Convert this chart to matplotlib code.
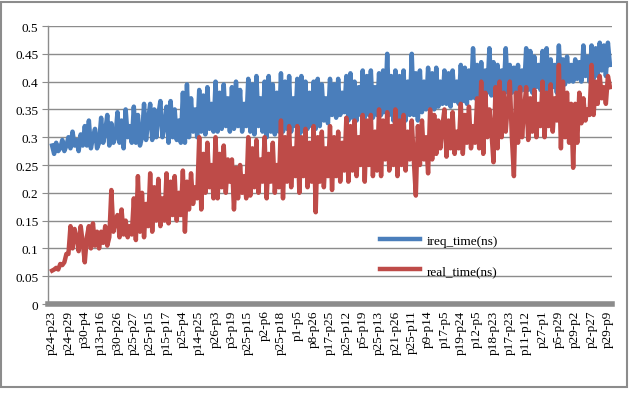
import matplotlib
matplotlib.use("Agg")
import matplotlib.pyplot as plt
from matplotlib.patches import Rectangle

tick_labels = ["p24-p23", "p24-p29", "p30-p4", "p13-p16", "p30-p26", "p25-p27", "p25-p15",
               "p15-p17", "p25-p4", "p14-p25", "p26-p3", "p3-p19", "p25-p15", "p2-p6",
               "p25-p18", "p1-p5", "p8-p26", "p17-p25", "p25-p12", "p5-p19", "p25-p13",
               "p21-p26", "p25-p11", "p9-p14", "p17-p5", "p19-p24", "p12-p5", "p18-p23",
               "p17-p23", "p11-p12", "p27-p1", "p5-p29", "p29-p2", "p2-p27", "p29-p9"]

ireq_time = [
    0.285, 0.27, 0.29, 0.275, 0.28, 0.295, 0.275, 0.285,
    0.30, 0.28, 0.31, 0.285, 0.295, 0.275, 0.305, 0.285,
    0.32, 0.285, 0.33, 0.28, 0.30, 0.315, 0.28, 0.29,
    0.335, 0.29, 0.31, 0.34, 0.285, 0.325, 0.29, 0.30,
    0.345, 0.29, 0.33, 0.28, 0.35, 0.30, 0.32, 0.29,
    0.355, 0.29, 0.34, 0.285, 0.30, 0.36, 0.295, 0.33,
    0.36, 0.295, 0.35, 0.30, 0.34, 0.365, 0.30, 0.32,
    0.355, 0.29, 0.365, 0.30, 0.35, 0.295, 0.33, 0.29,
    0.38, 0.29, 0.395, 0.30, 0.37, 0.31, 0.35, 0.30,
    0.385, 0.31, 0.375, 0.305, 0.39, 0.315, 0.36, 0.31,
    0.40, 0.31, 0.38, 0.315, 0.395, 0.32, 0.37, 0.31,
    0.39, 0.315, 0.40, 0.32, 0.385, 0.31, 0.36, 0.32,
    0.405, 0.31, 0.395, 0.305, 0.41, 0.32, 0.37, 0.31,
    0.40, 0.30, 0.41, 0.31, 0.395, 0.305, 0.38, 0.31,
    0.415, 0.31, 0.40, 0.315, 0.41, 0.31, 0.37, 0.32,
    0.405, 0.305, 0.41, 0.31, 0.40, 0.315, 0.38, 0.32,
    0.40, 0.315, 0.405, 0.32, 0.395, 0.33, 0.37, 0.325,
    0.405, 0.34, 0.395, 0.335, 0.405, 0.34, 0.38, 0.345,
    0.41, 0.33, 0.415, 0.335, 0.40, 0.33, 0.39, 0.34,
    0.42, 0.335, 0.41, 0.34, 0.42, 0.335, 0.39, 0.34,
    0.415, 0.34, 0.42, 0.345, 0.45, 0.34, 0.41, 0.33,
    0.42, 0.325, 0.41, 0.335, 0.42, 0.33, 0.40, 0.34,
    0.45, 0.34, 0.415, 0.33, 0.42, 0.345, 0.40, 0.35,
    0.425, 0.355, 0.415, 0.35, 0.425, 0.355, 0.40, 0.36,
    0.42, 0.36, 0.415, 0.355, 0.42, 0.365, 0.40, 0.36,
    0.43, 0.365, 0.425, 0.36, 0.42, 0.37, 0.46, 0.37,
    0.43, 0.375, 0.435, 0.37, 0.42, 0.38, 0.46, 0.375,
    0.435, 0.37, 0.43, 0.375, 0.42, 0.38, 0.46, 0.38,
    0.43, 0.38, 0.425, 0.385, 0.43, 0.38, 0.42, 0.385,
    0.46, 0.385, 0.455, 0.38, 0.445, 0.39, 0.43, 0.385,
    0.455, 0.375, 0.46, 0.37, 0.44, 0.39, 0.43, 0.38,
    0.465, 0.40, 0.44, 0.395, 0.445, 0.40, 0.43, 0.40,
    0.44, 0.405, 0.435, 0.40, 0.465, 0.41, 0.445, 0.40,
    0.465, 0.405, 0.46, 0.41, 0.47, 0.42, 0.465, 0.41,
    0.47, 0.43,
]

real_time = [
    0.06, 0.062, 0.065, 0.062, 0.072, 0.07, 0.075, 0.09,
    0.09, 0.14, 0.10, 0.135, 0.12, 0.095, 0.14, 0.11,
    0.075, 0.12, 0.14, 0.10, 0.145, 0.105, 0.13, 0.10,
    0.13, 0.11, 0.14, 0.105, 0.12, 0.205, 0.13, 0.15,
    0.16, 0.12, 0.17, 0.125, 0.15, 0.12, 0.14, 0.125,
    0.19, 0.115, 0.23, 0.13, 0.20, 0.12, 0.18, 0.14,
    0.235, 0.13, 0.21, 0.15, 0.225, 0.14, 0.19, 0.15,
    0.235, 0.145, 0.22, 0.16, 0.23, 0.15, 0.20, 0.16,
    0.24, 0.13, 0.22, 0.17, 0.235, 0.18, 0.21, 0.19,
    0.30, 0.17, 0.27, 0.20, 0.29, 0.21, 0.25, 0.19,
    0.30, 0.19, 0.27, 0.21, 0.285, 0.20, 0.26, 0.22,
    0.26, 0.17, 0.245, 0.19, 0.25, 0.20, 0.23, 0.19,
    0.30, 0.195, 0.28, 0.21, 0.295, 0.20, 0.26, 0.22,
    0.30, 0.19, 0.27, 0.22, 0.29, 0.20, 0.25, 0.21,
    0.33, 0.19, 0.30, 0.22, 0.32, 0.21, 0.28, 0.23,
    0.32, 0.20, 0.30, 0.23, 0.315, 0.21, 0.29, 0.22,
    0.32, 0.165, 0.30, 0.22, 0.31, 0.21, 0.28, 0.23,
    0.32, 0.205, 0.30, 0.23, 0.31, 0.22, 0.29, 0.24,
    0.335, 0.22, 0.32, 0.24, 0.33, 0.23, 0.30, 0.25,
    0.34, 0.22, 0.33, 0.25, 0.34, 0.23, 0.31, 0.24,
    0.35, 0.23, 0.33, 0.26, 0.345, 0.24, 0.32, 0.25,
    0.35, 0.23, 0.33, 0.25, 0.34, 0.24, 0.31, 0.26,
    0.33, 0.26, 0.195, 0.32, 0.25, 0.33, 0.26, 0.30,
    0.235, 0.35, 0.26, 0.34, 0.27, 0.33, 0.28, 0.32,
    0.35, 0.265, 0.33, 0.28, 0.345, 0.27, 0.31, 0.28,
    0.36, 0.27, 0.34, 0.29, 0.355, 0.28, 0.32, 0.29,
    0.37, 0.28, 0.40, 0.27, 0.38, 0.30, 0.35, 0.31,
    0.255, 0.39, 0.28, 0.40, 0.30, 0.38, 0.31, 0.36,
    0.40, 0.30, 0.23, 0.38, 0.29, 0.39, 0.30, 0.35,
    0.39, 0.295, 0.37, 0.31, 0.385, 0.30, 0.36, 0.32,
    0.40, 0.30, 0.38, 0.32, 0.395, 0.31, 0.37, 0.33,
    0.43, 0.28, 0.40, 0.30, 0.38, 0.29, 0.36, 0.245,
    0.36, 0.29, 0.38, 0.325, 0.37, 0.33, 0.35, 0.34,
    0.43, 0.34, 0.40, 0.36, 0.41, 0.37, 0.39, 0.36,
    0.41, 0.39,
]

series_names = ["ireq_time(ns)", "real_time(ns)"]
label_step = 8

plt.rcParams['font.family'] = ['Liberation Serif', 'DejaVu Serif']

fig = plt.figure(figsize=(6.33, 4.02), dpi=100)
ax = fig.add_axes([48/633, 1-305/402, (612-48)/633, (305-27)/402])

x = list(range(len(ireq_time)))
ax.plot(x, ireq_time, color='#4a7ebb', lw=3.2, solid_joinstyle='round', label=series_names[0], zorder=3)
ax.plot(x, real_time, color='#be4b48', lw=3.2, solid_joinstyle='round', label=series_names[1], zorder=3)

ax.set_xlim(-2.0, len(x) + 0.0)
ax.set_ylim(0, 0.5)
ax.set_yticks([i * 0.05 for i in range(11)])
ax.set_yticklabels(['0'] + [f'{i*0.05:.2f}'.rstrip('0') for i in range(1, 11)])
ax.set_xticks([i * label_step for i in range(len(tick_labels))])
ax.set_xticklabels(tick_labels, rotation=90)

ax.grid(axis='y', color='#8c8c8c', lw=1.0, zorder=0)
ax.set_axisbelow(True)
for s in ['top', 'right']:
    ax.spines[s].set_visible(False)
ax.spines['left'].set_color('#8c8c8c')
ax.spines['left'].set_linewidth(1.0)
ax.spines['bottom'].set_color('#8c8c8c')
ax.spines['bottom'].set_linewidth(4.0)
ax.tick_params(axis='y', length=4, color='#8c8c8c', labelsize=9.5, pad=3)
ax.tick_params(axis='x', length=0, labelsize=9.5, pad=4)

ax.legend(loc='upper left', bbox_to_anchor=(0.589, 0.25), frameon=False,
          fontsize=9.5, handlelength=3.0, handletextpad=0.5, labelspacing=1.35,
          borderpad=0, borderaxespad=0)

fig.patches.append(Rectangle((0.002, 1-388/402), 627/633-0.002, 385/402,
                             transform=fig.transFigure, fill=False,
                             edgecolor='#8c8c8c', lw=1.5))

fig.savefig('out.png', dpi=100)
